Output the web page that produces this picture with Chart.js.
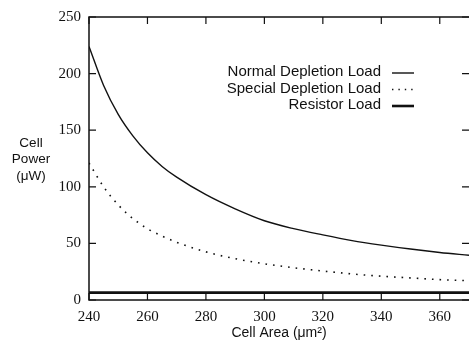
<!DOCTYPE html>
<html>
<head>
<meta charset="utf-8">
<script src="https://cdn.jsdelivr.net/npm/chart.js@4.4.0/dist/chart.umd.min.js"></script>
<style>
    html, body { margin: 0; padding: 0; background: #fff; }
    #wrap { width: 469px; height: 343px; position: relative; }
</style>
</head>
<body>
<div id="wrap"><canvas id="powerChart"></canvas></div>
<script>
// data
const cellArea = [240, 245, 250, 255, 260, 265, 270, 280, 290, 300, 310, 320, 330, 340, 350, 360, 370];
const normalDepletion = [224, 189.5, 164, 145, 130, 118, 108.5, 93, 80.5, 70, 63, 57.5, 52.5, 48.5, 45, 42, 39.5];
const specialDepletion = [121, 100, 84, 72, 63, 56.5, 51, 42.5, 36.5, 32, 28.5, 25.6, 23, 21, 19.5, 18, 17];
const resistorLoad = [6.5, 6.5, 6.5, 6.5, 6.5, 6.5, 6.5, 6.5, 6.5, 6.5, 6.5, 6.5, 6.5, 6.5, 6.5, 6.5, 6.5];
const xTicks = [240, 260, 280, 300, 320, 340, 360];
const yTicks = [0, 50, 100, 150, 200, 250];

const legendItems = [
    { label: 'Normal Depletion Load', width: 1.4, dash: [] },
    { label: 'Special Depletion Load', width: 1.4, dash: [1.4, 5] },
    { label: 'Resistor Load', width: 2.6, dash: [] }
];

const INK = '#111';
const sansFont = '"Liberation Sans", Arial, sans-serif';
const serifFont = '"Liberation Serif", "Times New Roman", serif';

// frame, inward ticks, legend and horizontal y title
const decorations = {
    id: 'decorations',
    afterDraw(chart) {
        const { ctx, chartArea: a, scales } = chart;
        ctx.save();
        ctx.strokeStyle = INK;
        ctx.lineWidth = 1.5;
        ctx.beginPath();
        ctx.moveTo(a.right, a.top);
        ctx.lineTo(a.left, a.top);
        ctx.lineTo(a.left, a.bottom);
        ctx.lineTo(a.right, a.bottom);
        ctx.stroke();

        const tl = 7;
        ctx.lineWidth = 1.2;
        ctx.beginPath();
        xTicks.forEach(v => {
            const x = scales.x.getPixelForValue(v);
            ctx.moveTo(x, a.bottom); ctx.lineTo(x, a.bottom - tl);
            ctx.moveTo(x, a.top); ctx.lineTo(x, a.top + tl);
        });
        yTicks.forEach(v => {
            const y = scales.y.getPixelForValue(v);
            ctx.moveTo(a.left, y); ctx.lineTo(a.left + tl, y);
            ctx.moveTo(a.right, y); ctx.lineTo(a.right - tl, y);
        });
        ctx.stroke();

        // legend
        ctx.font = '15px ' + sansFont;
        ctx.fillStyle = INK;
        ctx.textAlign = 'right';
        ctx.textBaseline = 'middle';
        legendItems.forEach((item, i) => {
            const y = 72 + i * 16.5;
            ctx.fillText(item.label, 381, y);
            ctx.lineWidth = item.width;
            ctx.setLineDash(item.dash);
            ctx.beginPath();
            ctx.moveTo(392, y + 1);
            ctx.lineTo(414, y + 1);
            ctx.stroke();
        });
        ctx.setLineDash([]);

        // y axis title
        ctx.font = '13.5px ' + sansFont;
        ctx.textAlign = 'center';
        ctx.fillText('Cell', 31, 143);
        ctx.fillText('Power', 31, 159);
        ctx.fillText('(μW)', 31, 176);
        ctx.restore();
    }
};

const ctx = document.getElementById('powerChart').getContext('2d');
new Chart(ctx, {
    type: 'line',
    data: {
        labels: cellArea,
        datasets: [
            {
                label: 'Normal Depletion Load',
                data: cellArea.map((x, i) => ({ x, y: normalDepletion[i] })),
                borderColor: INK,
                borderWidth: 1.4,
                cubicInterpolationMode: 'monotone'
            },
            {
                label: 'Special Depletion Load',
                data: cellArea.map((x, i) => ({ x, y: specialDepletion[i] })),
                borderColor: INK,
                borderWidth: 1.6,
                borderDash: [1.6, 6],
                cubicInterpolationMode: 'monotone'
            },
            {
                label: 'Resistor Load',
                data: cellArea.map((x, i) => ({ x, y: resistorLoad[i] })),
                borderColor: INK,
                borderWidth: 2.6
            }
        ]
    },
    options: {
        responsive: true,
        maintainAspectRatio: false,
        animation: false,
        layout: { padding: { top: 14, right: 0, left: 0, bottom: 0 } },
        elements: { point: { radius: 0 } },
        plugins: {
            legend: { display: false },
            tooltip: { enabled: false }
        },
        scales: {
            x: {
                type: 'linear',
                min: 240,
                max: 370,
                afterBuildTicks: s => { s.ticks = xTicks.map(v => ({ value: v })); },
                afterFit: s => { s.height = 43; },
                grid: { display: false, drawTicks: false },
                border: { display: false },
                ticks: { color: INK, padding: 8, font: { family: serifFont, size: 15 } },
                title: {
                    display: true,
                    text: 'Cell Area (μm²)',
                    color: INK,
                    font: { family: sansFont, size: 14 },
                    padding: { top: 0, bottom: 1 }
                }
            },
            y: {
                min: 0,
                max: 250,
                afterBuildTicks: s => { s.ticks = yTicks.map(v => ({ value: v })); },
                afterFit: s => { s.width = 89; },
                grid: { display: false, drawTicks: false },
                border: { display: false },
                ticks: { color: INK, padding: 8, font: { family: serifFont, size: 15 } }
            }
        }
    },
    plugins: [decorations]
});
</script>
</body>
</html>
